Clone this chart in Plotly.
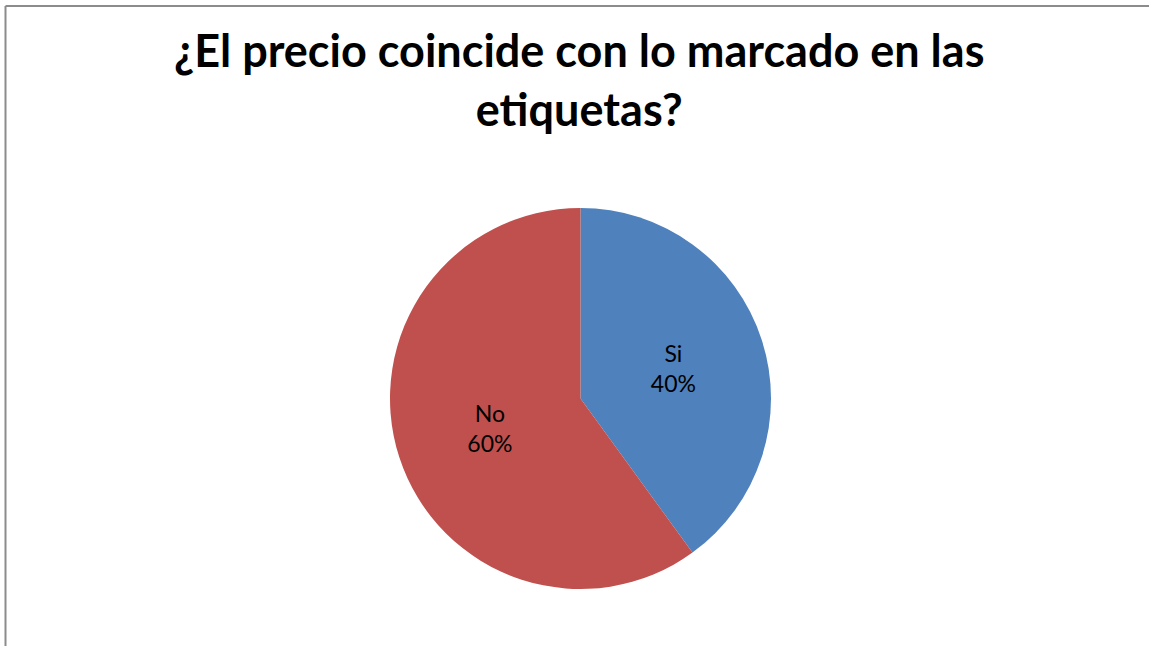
import plotly.graph_objects as go

categories = ["Si", "No"]
values = [40, 60]
colors = ["#4F81BD", "#C0504D"]
title_text = "¿El precio coincide con lo marcado en las<br>etiquetas?"

W, H = 1149, 646
cx, cy, r = 580.5, 398.5, 190.5

fig = go.Figure(go.Pie(
    labels=categories,
    values=values,
    marker=dict(colors=colors, line=dict(width=0)),
    sort=False,
    direction="clockwise",
    rotation=0,
    textinfo="label+percent",
    texttemplate="%{label}<br>%{percent:.0%}",
    textposition="inside",
    insidetextorientation="horizontal",
    textfont=dict(family="Lato, sans-serif", size=23, color="black"),
    showlegend=False,
    hoverinfo="label+percent",
    domain=dict(x=[(cx - r) / W, (cx + r) / W], y=[1 - (cy + r) / H, 1 - (cy - r) / H]),
))

fig.update_layout(
    width=W, height=H,
    margin=dict(l=0, r=0, t=0, b=0),
    paper_bgcolor="white",
    plot_bgcolor="white",
    annotations=[dict(
        text=title_text,
        xref="paper", yref="paper",
        x=579.5 / W, xanchor="center",
        y=1 - 80 / H, yanchor="middle",
        showarrow=False,
        align="center",
        font=dict(family="Lato, sans-serif", size=45, color="black", weight="bold"),
    )],
    shapes=[
        dict(type="line", xref="paper", yref="paper", x0=5.5 / W, x1=1.0, y0=1 - 6 / H, y1=1 - 6 / H,
             line=dict(color="#8C8C8C", width=2)),
        dict(type="line", xref="paper", yref="paper", x0=5.5 / W, x1=5.5 / W, y0=0, y1=1 - 6 / H,
             line=dict(color="#8C8C8C", width=2)),
    ],
)

fig.write_html(
    "out.html",
    config={"displayModeBar": False},
    post_script="document.body.style.margin='0';document.body.style.overflow='hidden';",
)
